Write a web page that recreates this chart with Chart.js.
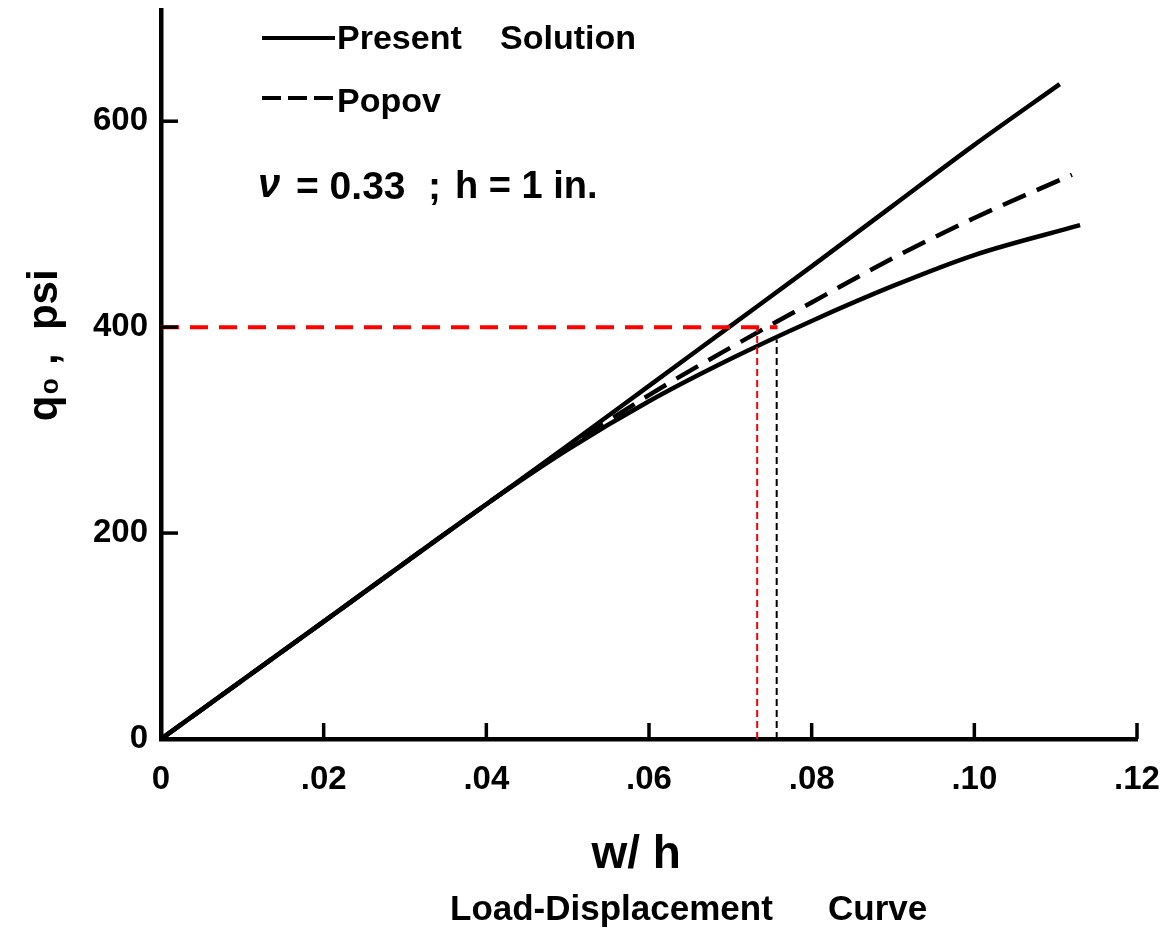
<!DOCTYPE html>
<html>
<head>
<meta charset="utf-8">
<script src="https://cdn.jsdelivr.net/npm/chart.js@4.4.1/dist/chart.umd.min.js"></script>
<style>
  html, body { margin: 0; padding: 0; background: #fff; }
  #wrap { width: 1161px; height: 933px; position: relative; }
</style>
</head>
<body>
<div id="wrap"><canvas id="c"></canvas></div>
<script>
// ---- data ----
const xTickValues = [0, 0.02, 0.04, 0.06, 0.08, 0.10, 0.12];
const xTickLabels = ['0', '.02', '.04', '.06', '.08', '.10', '.12'];
const yTickValues = [0, 200, 400, 600];
const yTickLabels = ['0', '200', '400', '600'];

// upper solid curve (Present Solution)
const xUpper = [0, 0.02, 0.04, 0.05, 0.06, 0.07, 0.08, 0.09, 0.10, 0.1105];
const qUpper = [0, 114, 228, 285, 343, 401, 459, 518, 577, 636];
// lower solid curve (Present Solution)
const xLower = [0, 0.02, 0.04, 0.05, 0.06, 0.07, 0.08, 0.09, 0.10, 0.113];
const qLower = [0, 114, 228, 281, 328, 369, 406, 440, 470, 499];
// dashed curve (Popov)
const xPopov = [0, 0.02, 0.04, 0.05, 0.06, 0.07, 0.08, 0.09, 0.10, 0.112];
const qPopov = [0, 114, 228, 283, 334, 380, 424, 467, 506, 548];

// reference lines
const xRedH = [0, 0.0758];
const qRedH = [400, 400];
const xRedV = [0.0733, 0.0733];
const qRedV = [0, 400];
const xBlackV = [0.0757, 0.0757];
const qBlackV = [0, 388];

const legendWords = ['Present', 'Solution', 'Popov'];
const noteParts = ['\u03BD', '= 0.33', ';', 'h = 1 in.'];
const xTitle = 'w/ h  ';
const yTitle = '     q\u2080 ,  psi';
const bottomWords = ['Load-Displacement', 'Curve'];

const pts = (xs, ys) => xs.map((x, i) => ({ x: x, y: ys[i] }));
const FONT = "'Liberation Sans', Arial, sans-serif";

const innerTicks = {
  id: 'innerTicks',
  afterDatasetsDraw(chart) {
    const { ctx, scales: { x, y } } = chart;
    ctx.save();
    ctx.strokeStyle = '#000';
    ctx.lineWidth = 3.5;
    xTickValues.forEach(v => {
      if (v === 0) return;
      const px = x.getPixelForValue(v);
      ctx.beginPath(); ctx.moveTo(px, y.bottom); ctx.lineTo(px, y.bottom - 16); ctx.stroke();
    });
    yTickValues.forEach(v => {
      if (v === 0) return;
      const py = y.getPixelForValue(v);
      ctx.beginPath(); ctx.moveTo(x.left, py); ctx.lineTo(x.left + 17, py); ctx.stroke();
    });
    ctx.restore();
  }
};

const annotations = {
  id: 'annotations',
  afterDraw(chart) {
    const ctx = chart.ctx;
    ctx.save();
    ctx.fillStyle = '#000';
    ctx.strokeStyle = '#000';
    ctx.lineWidth = 4;
    ctx.beginPath(); ctx.moveTo(262, 38); ctx.lineTo(335, 38); ctx.stroke();
    ctx.setLineDash([19, 7]);
    ctx.beginPath(); ctx.moveTo(262, 98); ctx.lineTo(335, 98); ctx.stroke();
    ctx.setLineDash([]);
    ctx.font = 'bold 34px ' + FONT;
    ctx.textBaseline = 'middle';
    ctx.textAlign = 'left';
    ctx.fillText(legendWords[0], 337, 40);
    ctx.fillText(legendWords[1], 500, 40);
    ctx.fillText(legendWords[2], 337, 103);
    ctx.font = 'italic bold 40px ' + FONT;
    ctx.fillText(noteParts[0], 258, 186);
    ctx.font = 'bold 39px ' + FONT;
    ctx.fillText(noteParts[1], 296, 188);
    ctx.fillText(noteParts[2], 428, 188);
    ctx.font = 'bold 38px ' + FONT;
    ctx.fillText(noteParts[3], 455, 188);
    ctx.font = 'bold 35px ' + FONT;
    ctx.fillText(bottomWords[0], 450, 910);
    ctx.fillText(bottomWords[1], 828, 910);
    ctx.restore();
  }
};

new Chart(document.getElementById('c'), {
  type: 'line',
  data: {
    datasets: [
      { label: 'Red horizontal', data: pts(xRedH, qRedH), borderColor: '#ff0000', borderWidth: 4, borderDash: [18, 11], pointRadius: 0, order: 0 },
      { label: 'Red vertical', data: pts(xRedV, qRedV), borderColor: '#ff0000', borderWidth: 2, borderDash: [7, 4], pointRadius: 0, order: 0 },
      { label: 'Black vertical', data: pts(xBlackV, qBlackV), borderColor: '#000', borderWidth: 2, borderDash: [7, 4], pointRadius: 0, order: 0 },
      { label: 'Present Solution (upper)', data: pts(xUpper, qUpper), borderColor: '#000', borderWidth: 4.5, pointRadius: 0, cubicInterpolationMode: 'monotone', order: 1 },
      { label: 'Present Solution', data: pts(xLower, qLower), borderColor: '#000', borderWidth: 4.5, pointRadius: 0, cubicInterpolationMode: 'monotone', order: 1 },
      { label: 'Popov', data: pts(xPopov, qPopov), borderColor: '#000', borderWidth: 4.5, borderDash: [25, 12], pointRadius: 0, cubicInterpolationMode: 'monotone', order: 1 }
    ]
  },
  options: {
    responsive: true,
    maintainAspectRatio: false,
    animation: false,
    layout: { padding: { left: 0, top: 10, right: 24, bottom: 0 } },
    plugins: { legend: { display: false }, tooltip: { enabled: false }, title: { display: false } },
    scales: {
      x: {
        type: 'linear', min: 0, max: 0.12,
        afterBuildTicks: s => { s.ticks = xTickValues.map(v => ({ value: v })); },
        afterFit: s => { s.height = 194; s.paddingLeft = 0; s.paddingRight = 0; },
        grid: { display: false },
        border: { display: true, color: '#000', width: 4.5 },
        ticks: {
          autoSkip: false, maxRotation: 0, padding: 13, color: '#000',
          font: { family: FONT, size: 33, weight: 'bold' },
          callback: (v, i) => xTickLabels[i]
        },
        title: { display: true, text: xTitle, color: '#000', font: { family: FONT, size: 46, weight: 'bold' }, padding: { top: 0, bottom: 50 } }
      },
      y: {
        type: 'linear', min: 0, max: 708,
        afterBuildTicks: s => { s.ticks = yTickValues.map(v => ({ value: v })); },
        afterFit: s => { s.width = 161; s.paddingTop = 0; s.paddingBottom = 0; },
        grid: { display: false },
        border: { display: true, color: '#000', width: 4.5 },
        ticks: {
          padding: 5, color: '#000',
          font: { family: FONT, size: 33, weight: 'bold' },
          callback: (v, i) => yTickLabels[i]
        },
        title: { display: true, text: yTitle, color: '#000', font: { family: FONT, size: 42, weight: 'bold' }, padding: { top: 20, bottom: 0 } }
      }
    }
  },
  plugins: [innerTicks, annotations]
});
</script>
</body>
</html>
